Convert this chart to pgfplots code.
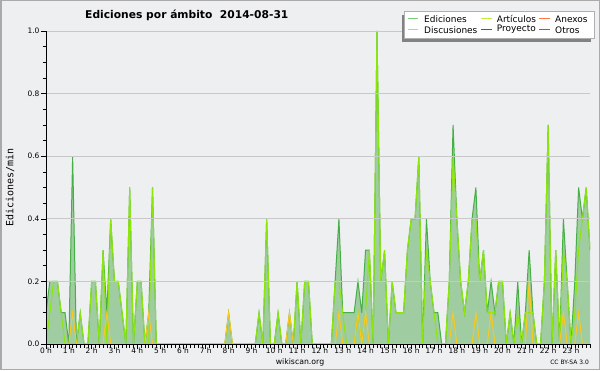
\documentclass[border=0pt]{standalone}
\usepackage{pgfplots}
\pgfplotsset{compat=1.18}
\usepackage{pgfplotstable}
\usepackage{fontspec}
\setmainfont{DejaVu Sans}
\newfontfamily\monofont{DejaVu Sans Mono}
\definecolor{bg}{RGB}{238,239,241}
\definecolor{framec}{RGB}{170,170,170}
\definecolor{gridc}{RGB}{200,200,200}
\definecolor{fillc}{RGB}{107,181,107}
\definecolor{edc}{RGB}{70,175,70}
\definecolor{edleg}{RGB}{120,205,120}
\definecolor{artc}{RGB}{140,230,10}
\definecolor{artleg}{RGB}{190,240,60}
\definecolor{disc}{RGB}{250,200,30}
\definecolor{anexc}{RGB}{255,120,70}
\definecolor{proyc}{RGB}{90,90,90}
\definecolor{otrosc}{RGB}{150,60,255}
\definecolor{shadowc}{RGB}{130,130,130}
\definecolor{legborder}{RGB}{175,175,175}

\pgfplotstableread{
i T A D
0 0.1 0.0 0
1 0.2 0.1 0
2 0.2 0.2 0
3 0.2 0.2 0
4 0.1 0.1 0
5 0.1 0.0 0
6 0.0 0.0 0
7 0.6 0.0 0.1
8 0.0 0.0 0
9 0.1 0.1 0
10 0 0 0
11 0 0 0
12 0.2 0.2 0
13 0.2 0.2 0
14 0 0 0
15 0.3 0.3 0
16 0.1 0.0 0.1
17 0.4 0.4 0
18 0.2 0.2 0
19 0.2 0.2 0
20 0.1 0.1 0
21 0 0 0
22 0.5 0.5 0
23 0 0 0
24 0.2 0.2 0
25 0.2 0.2 0
26 0 0 0
27 0.1 0.0 0.1
28 0.5 0.5 0
29 0 0 0
30 0 0 0
31 0 0 0
32 0 0 0
33 0 0 0
34 0 0 0
35 0 0 0
36 0 0 0
37 0 0 0
38 0 0 0
39 0 0 0
40 0 0 0
41 0 0 0
42 0 0 0
43 0 0 0
44 0 0 0
45 0 0 0
46 0 0 0
47 0 0 0
48 0.1 0.0 0.1
49 0 0 0
50 0 0 0
51 0 0 0
52 0 0 0
53 0 0 0
54 0 0 0
55 0 0 0
56 0.1 0.1 0
57 0 0 0
58 0.4 0.4 0
59 0 0 0
60 0 0 0
61 0.1 0.1 0
62 0 0 0
63 0 0 0
64 0.1 0.0 0.1
65 0 0 0
66 0.2 0.2 0
67 0 0 0
68 0.2 0.2 0
69 0.2 0.2 0
70 0 0 0
71 0 0 0
72 0 0 0
73 0 0 0
74 0 0 0
75 0 0 0
76 0.2 0.2 0
77 0.4 0.2 0.1
78 0.1 0.1 0
79 0.1 0.0 0
80 0.1 0.0 0
81 0.1 0.0 0
82 0.2 0.1 0.1
83 0.1 0.0 0
84 0.3 0.1 0.1
85 0.3 0.3 0
86 0 0 0
87 1.0 1.0 0
88 0.2 0.2 0
89 0.3 0.3 0
90 0 0 0
91 0.2 0.2 0
92 0.1 0.1 0
93 0.1 0.1 0
94 0.1 0.1 0
95 0.3 0.3 0
96 0.4 0.4 0
97 0.4 0.4 0
98 0.6 0.6 0
99 0 0 0
100 0.4 0.3 0
101 0.2 0.2 0
102 0.1 0.1 0
103 0.1 0.0 0
104 0 0 0
105 0 0 0
106 0.2 0.2 0
107 0.7 0.6 0.1
108 0.4 0.4 0
109 0.2 0.2 0
110 0.1 0.1 0
111 0.2 0.2 0
112 0.4 0.4 0
113 0.5 0.4 0.1
114 0.2 0.2 0
115 0.3 0.3 0
116 0.1 0.1 0
117 0.2 0.1 0.1
118 0.1 0.1 0
119 0.2 0.2 0
120 0.2 0.2 0
121 0 0 0
122 0.1 0.1 0
123 0 0 0
124 0.2 0.1 0
125 0 0 0
126 0.1 0.1 0
127 0.3 0.1 0.2
128 0.1 0.1 0
129 0 0 0
130 0 0 0
131 0.2 0.2 0
132 0.7 0.7 0
133 0 0 0
134 0.3 0.3 0
135 0 0 0
136 0.4 0.3 0.1
137 0.2 0.2 0
138 0 0 0
139 0.2 0.1 0
140 0.5 0.3 0.1
141 0.4 0.4 0
142 0.5 0.5 0
143 0.3 0.3 0
}\data

\begin{document}
\begin{tikzpicture}[x=1bp,y=1bp]
\useasboundingbox (0,0) rectangle (600,370);
\fill[bg] (0,0) rectangle (600,370);
\draw[framec, line width=1.5bp] (0.75,0.75) rectangle (599.25,369.25);
\begin{axis}[
  at={(46bp,26bp)}, anchor=south west,
  scale only axis, width=544bp, height=313bp,
  xmin=0, xmax=143, ymin=0, ymax=1,
  axis on top,
  axis lines*=left,
  axis line style={black, line width=0.9bp},
  tick align=outside,
  major tick length=5bp, minor tick length=3.5bp,
  every tick/.style={black, line width=0.6bp},
  xtick={0,6,...,138},
  xticklabels={0 h,1 h,2 h,3 h,4 h,5 h,6 h,7 h,8 h,9 h,10 h,11 h,12 h,13 h,14 h,15 h,16 h,17 h,18 h,19 h,20 h,21 h,22 h,23 h},
  minor xtick={0,1,...,143},
  ytick={0,0.2,0.4,0.6,0.8,1.0},
  yticklabels={0.0,0.2,0.4,0.6,0.8,1.0},
  minor ytick={0.05,0.1,0.15,0.25,0.3,0.35,0.45,0.5,0.55,0.65,0.7,0.75,0.85,0.9,0.95},
  ymajorgrids,
  major grid style={draw=gridc, line width=0.7bp},
  ticklabel style={font=\fontsize{7.5}{8.5}\selectfont},
  xticklabel style={yshift=4.5bp},
  yticklabel style={xshift=2bp},
]
\addplot[draw=none, fill=fillc, fill opacity=0.6] table[x=i,y=T]{\data} \closedcycle;
\addplot[edc, line width=1bp] table[x=i,y=T]{\data};
\addplot[artc, line width=1bp] table[x=i,y=A]{\data};
\addplot[disc, line width=1bp] table[x=i,y=D]{\data};
\end{axis}
% title
\node[anchor=base west, inner sep=0, font=\bfseries\fontsize{10.75}{12}\selectfont] at (85,351.7) {Ediciones por ámbito\ \ 2014-08-31};
% y label
\node[rotate=90, inner sep=0, font=\monofont\fontsize{10}{12}\selectfont] at (10,182.5) {Ediciones/min};
% bottom texts
\node[inner sep=0, font=\fontsize{7.8}{9}\selectfont] at (300,8) {wikiscan.org};
\node[anchor=east, inner sep=0, font=\fontsize{6}{7}\selectfont] at (589,8) {CC BY-SA 3.0};
% legend
\fill[shadowc] (401.5,328.3) rectangle (591,355.3);
\filldraw[fill=white, draw=legborder, line width=0.8bp] (404,331.7) rectangle (594,358.3);
\draw[edleg, line width=1bp] (408.3,351) -- (418.3,351);
\draw[artleg, line width=1bp] (481,351) -- (491.7,351);
\draw[anexc, line width=1bp] (539.3,351) -- (550,351);
\draw[disc, line width=1bp] (408.3,341) -- (418.3,341);
\draw[proyc, line width=1bp] (481,341) -- (491.7,341);
\draw[otrosc, line width=1bp] (539.3,341) -- (550,341);
\begin{scope}[every node/.style={anchor=base west, inner sep=0, font=\fontsize{9}{10}\selectfont}]
\node at (424,347.3) {Ediciones};
\node at (496.7,347.3) {Artículos};
\node at (555,347.3) {Anexos};
\node at (424,337) {Discusiones};
\node at (496.7,338.3) {Proyecto};
\node at (555,337) {Otros};
\end{scope}
\end{tikzpicture}
\end{document}
